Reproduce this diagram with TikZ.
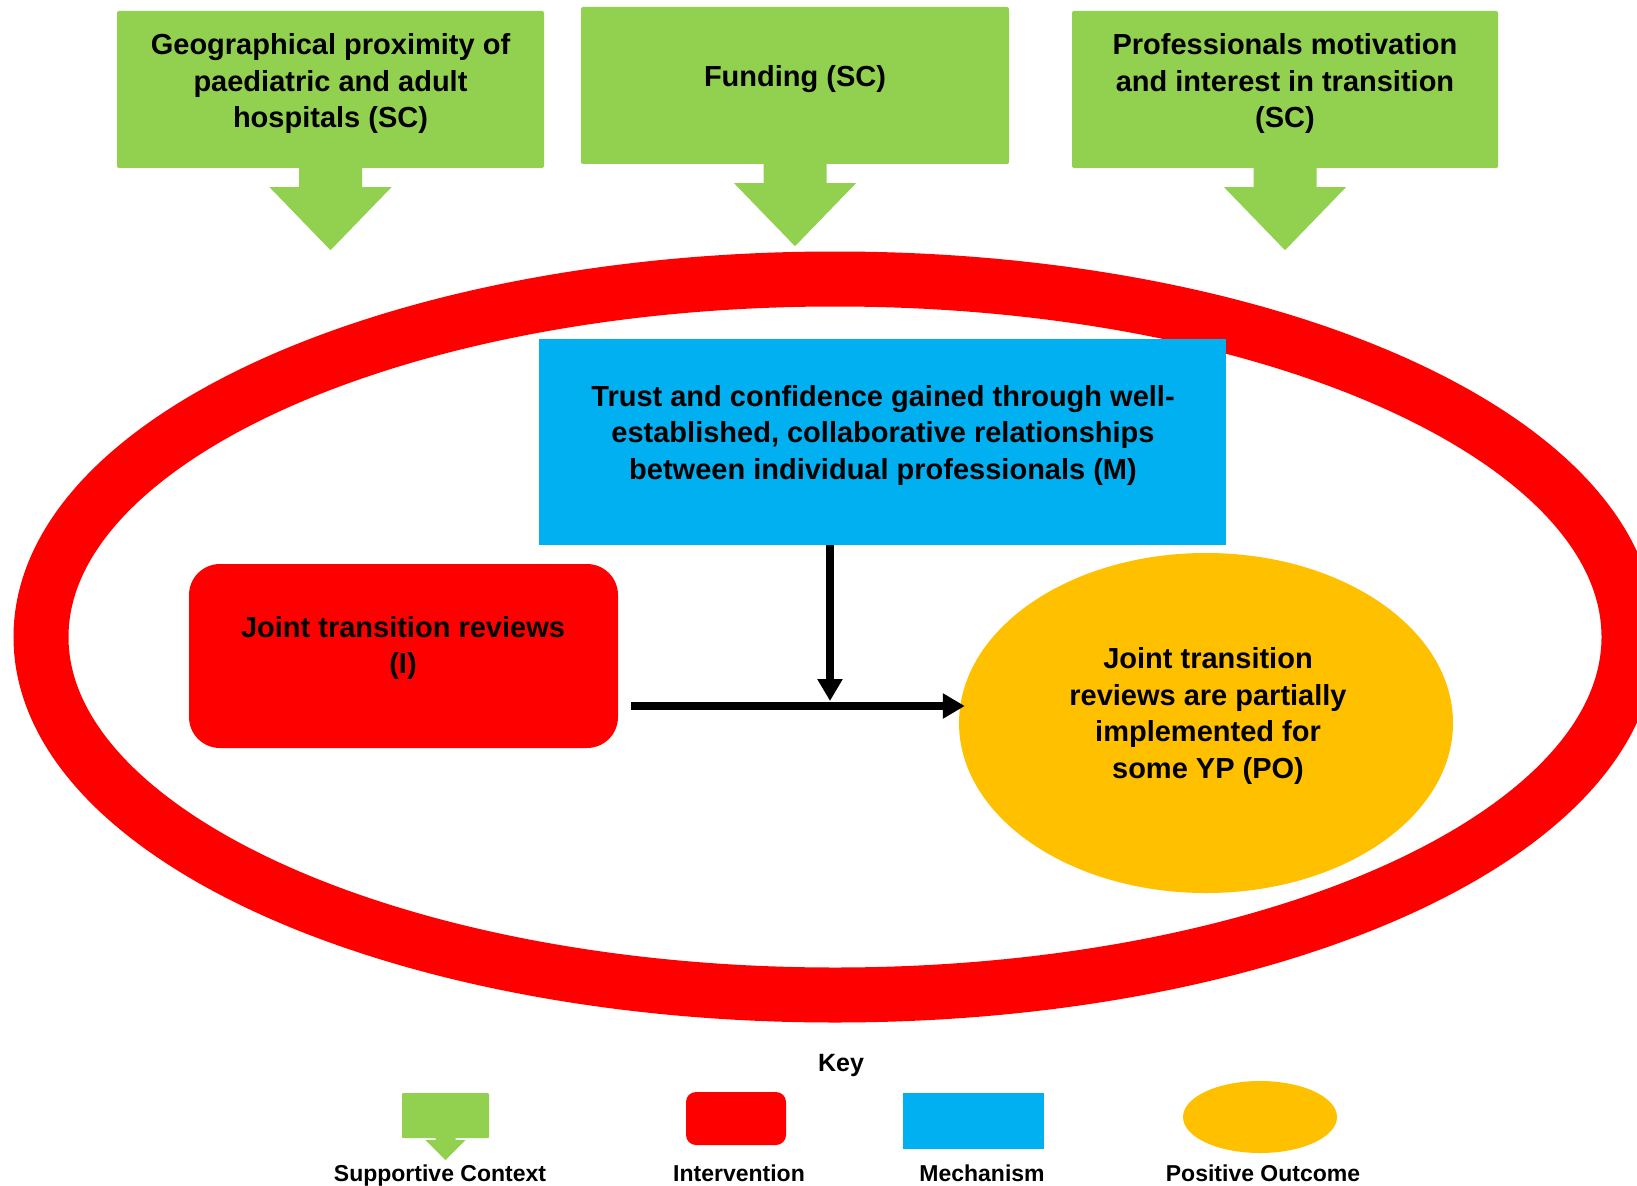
\documentclass[tikz,border=0pt]{standalone}
\usepackage{fontspec}
\setmainfont{Liberation Sans}
\usetikzlibrary{arrows.meta,calc,shapes.geometric}

\definecolor{scgreen}{HTML}{92D050}
\definecolor{mblue}{HTML}{00B0F0}
\definecolor{ired}{HTML}{FF0000}
\definecolor{poyellow}{HTML}{FFC000}

\tikzset{
  scbox/.style={fill=scgreen, draw=none, rectangle, rounded corners=2pt,
    minimum width=427pt, minimum height=157pt, inner sep=0pt},
  mechbox/.style={fill=mblue, draw=none, rectangle, inner sep=0pt},
  intbox/.style={fill=ired, draw=none, rectangle, inner sep=0pt},
  outcome/.style={fill=poyellow, draw=none, ellipse, inner sep=0pt},
  bodytext/.style={font=\fontsize{29}{36.5}\selectfont\bfseries, align=center, inner sep=0pt},
  keytext/.style={font=\fontsize{23}{27}\selectfont\bfseries, inner sep=0pt, anchor=base},
  link/.style={line width=8pt, -{Triangle[width=24pt,length=22pt]}},
}

% green downward arrow under a context box:
% #1 node, #2 stem half-width, #3 head half-width, #4 head start, #5 tip depth
\newcommand\ctxarrow[5]{%
  \fill[scgreen] ($(#1.south)+(-#2,-1)$) -- ($(#1.south)+(-#2,#4)$)
    -- ($(#1.south)+(-#3,#4)$) -- ($(#1.south)+(0,#5)$)
    -- ($(#1.south)+(#3,#4)$) -- ($(#1.south)+(#2,#4)$)
    -- ($(#1.south)+(#2,-1)$) -- cycle;}

\begin{document}
\begin{tikzpicture}[x=1pt, y=-1pt]
  \useasboundingbox (0,0) rectangle (1637,1185);

  % outer context ring
  \draw[ired, line width=55pt] (835,637) ellipse [x radius=794pt, y radius=358pt];

  % supportive context boxes
  \node[scbox] (geo) at (330.5,89.5) {};
  \node[bodytext] (geotxt) at (330.5,84) {Geographical proximity of\\paediatric and adult\\hospitals (SC)};
  \ctxarrow{geo}{31.5}{61}{19}{82}

  \node[scbox, minimum width=428pt] (fund) at (795,85.5) {};
  \node[bodytext] (fundtxt) at (795,79) {Funding (SC)};
  \ctxarrow{fund}{31.5}{61}{19}{82}

  \node[scbox, minimum width=426pt] (prof) at (1285,89.5) {};
  \node[bodytext] (proftxt) at (1285,84) {Professionals motivation\\and interest in transition\\(SC)};
  \ctxarrow{prof}{31.5}{61}{19}{82}

  % mechanism
  \node[mechbox, minimum width=687pt, minimum height=206pt] (mech) at (882.5,442) {};
  \node[bodytext] (mechtxt) at (883,435) {Trust and confidence gained through well-\\established, collaborative relationships\\between individual professionals (M)};

  % intervention
  \node[intbox, rounded corners=31pt, minimum width=429pt, minimum height=184pt] (intv) at (403.5,656) {};
  \node[bodytext] (intvtxt) at (403,648) {Joint transition reviews\\(I)};

  % outcome
  \node[outcome, minimum width=494pt, minimum height=340pt] (outc) at (1206,723) {};
  \node[bodytext] (outctxt) at (1208,716) {Joint transition\\reviews are partially\\implemented for\\some YP (PO)};

  % connectors
  \coordinate (hstart) at (631,706);
  \coordinate (join) at (830,706);
  \draw[link, shorten >=-6pt] (hstart) -- (outc.west |- hstart);
  \draw[link, shorten >=5pt] (join |- mech.south) -- (join);

  % key
  \node[keytext, font=\fontsize{25}{29}\selectfont\bfseries] (keyttl) at (841,1071) {Key};

  \node[scbox, minimum width=87pt, minimum height=45pt, rounded corners=1pt] (ksc) at (445.5,1115.5) {};
  \ctxarrow{ksc}{10}{20}{2}{22}
  \node[intbox, rounded corners=10pt, minimum width=100pt, minimum height=53pt] (kint) at (736,1118.5) {};
  \node[mechbox, minimum width=141pt, minimum height=56pt] (kmech) at (973.5,1121) {};
  \node[outcome, minimum width=154pt, minimum height=72pt] (kout) at (1260,1117) {};

  \node[keytext] (ksctxt) at (440,1181) {Supportive Context};
  \node[keytext] (kinttxt) at (739,1181) {Intervention};
  \node[keytext] (kmechtxt) at (982,1181) {Mechanism};
  \node[keytext] (kouttxt) at (1263,1181) {Positive Outcome};
\end{tikzpicture}
\end{document}
